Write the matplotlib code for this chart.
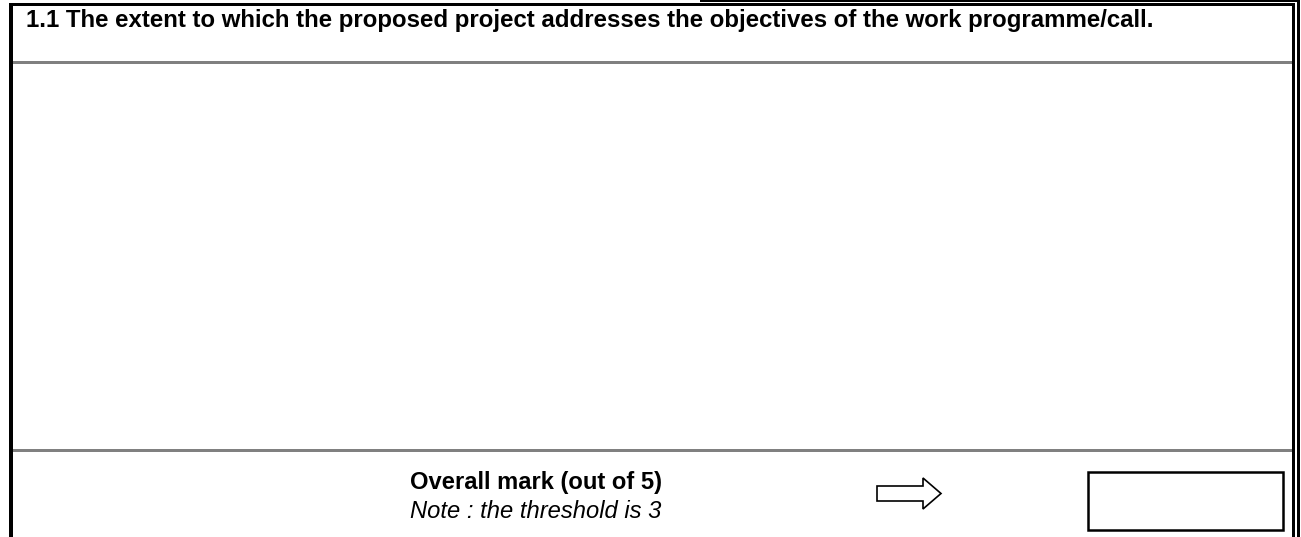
import matplotlib.pyplot as plt
from matplotlib.patches import Rectangle, Polygon

# texts of the form
header = "1.1 The extent to which the proposed project addresses the objectives of the work programme/call."
mark_label = "Overall mark (out of 5)"
note_label = "Note : the threshold is 3"

W, H = 1301, 537

fig = plt.figure(figsize=(W / 100, H / 100), dpi=100)
ax = fig.add_axes([0, 0, 1, 1])
ax.set_xlim(0, W)
ax.set_ylim(H, 0)
ax.axis("off")


def bar(x0, y0, x1, y1, color="black"):
    ax.add_patch(Rectangle((x0, y0), x1 - x0, y1 - y0, facecolor=color,
                           edgecolor="none", linewidth=0))


# frame: thick left side, double right side
bar(9, 3, 13, H)            # left
bar(9, 3, 1295, 6)          # top
bar(1292, 4, 1295, H)       # right inner
bar(1297, 0, 1300, H)       # right outer
bar(700, 0, 1300, 1.5)      # top outer

# grey row separators
bar(13, 61, 1292, 64, "#808080")
bar(13, 449, 1292, 452, "#808080")

font = "Liberation Sans"
ax.text(26, 27.5, header, fontsize=17.3, fontweight="bold", family=font,
        va="baseline", ha="left")
ax.text(410, 488.5, mark_label, fontsize=17.1, fontweight="bold", family=font,
        va="baseline", ha="left")
ax.text(410, 518.5, note_label, fontsize=17.1, style="italic", family=font,
        va="baseline", ha="left")

# outline arrow
arrow = [(877, 486), (923, 486), (923, 478), (941, 493.5),
         (923, 509), (923, 501), (877, 501)]
ax.add_patch(Polygon(arrow, closed=True, facecolor="white",
                     edgecolor="black", linewidth=1.2))

# mark box
ax.add_patch(Rectangle((1088, 472), 195, 58, facecolor="white",
                       edgecolor="black", linewidth=1.8))

fig.savefig("out.png", dpi=100)
